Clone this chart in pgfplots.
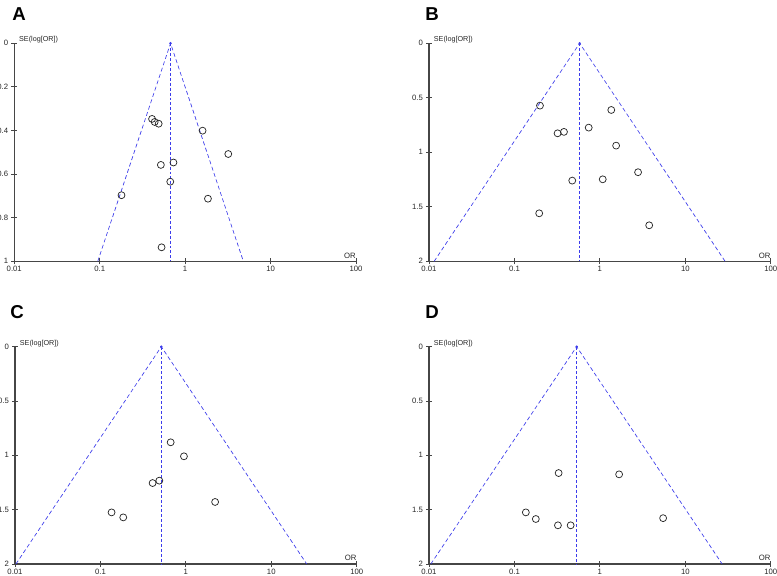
\documentclass[border=0pt]{standalone}
\usepackage{fontspec}
\setmainfont{Liberation Sans}
\usepackage{pgfplots}
\usepackage{pgfplotstable}
\pgfplotsset{compat=1.18}
\definecolor{fblue}{RGB}{60,60,235}
\definecolor{axgray}{RGB}{70,70,70}

\pgfplotstableread{
or se
0.41 0.347
0.44 0.361
0.49 0.369
1.60 0.401
3.20 0.508
0.52 0.558
0.73 0.547
0.67 0.635
0.18 0.697
1.85 0.713
0.53 0.936
}\dataA
\pgfplotstableread{
or se
0.199 0.572
1.36 0.612
0.74 0.774
0.32 0.826
0.38 0.813
1.55 0.939
2.80 1.183
1.08 1.248
0.475 1.260
0.195 1.560
3.78 1.670
}\dataB
\pgfplotstableread{
or se
0.664 0.880
0.95 1.009
0.489 1.233
0.408 1.255
2.20 1.429
0.135 1.525
0.185 1.571
}\dataC
\pgfplotstableread{
or se
0.329 1.163
1.68 1.175
0.136 1.525
0.178 1.586
0.323 1.644
0.455 1.644
5.50 1.578
}\dataD

\pgfplotsset{
  myfunnelaxis/.style={
    scale only axis, width=256.3pt,
    xmin=0.01, xmax=100,
    axis x line*=bottom, axis y line*=left,
    xtick={0.01,0.1,1,10,100}, xticklabels={0.01,0.1,1,10,100},
    xminorticks=false,
    tick align=center, major tick length=4.5pt,
    tick style={axgray, line width=0.6pt},
    axis line style={axgray, line width=0.8pt},
    tick label style={font=\fontsize{5.8}{6.5}\selectfont, text=black!85},
    xticklabel style={yshift=1.8pt},
    yticklabel style={xshift=1.2pt},
    /pgf/number format/assume math mode=true,
    clip=false,
    anchor=south west,
  },
  myyone/.style={ymin=-1, ymax=0, ytick={-1,-0.8,-0.6,-0.4,-0.2,0},
    yticklabels={1,0.8,0.6,0.4,0.2,0}},
  myytwo/.style={ymin=-2, ymax=0, ytick={-2,-1.5,-1,-0.5,0},
    yticklabels={2,1.5,1,0.5,0}},
}
\tikzset{
  mypts/.style={only marks, mark=o, mark size=2.6pt, draw=black!85, line width=0.55pt},
  myfunline/.style={draw=fblue, densely dashed, line width=0.5pt},
  myvert/.style={draw=fblue, dash pattern=on 2.2pt off 1.5pt, line width=0.8pt},
  myapex/.style={only marks, mark=*, mark size=0.7pt, draw=fblue, fill=fblue},
}
\newcommand{\axlabels}{%
  \node[anchor=south west, font=\fontsize{5.4}{6}\selectfont, text=black!85, inner sep=0pt, xshift=3.5pt, yshift=-0.2pt] at (rel axis cs:0,1) {SE(log[OR])};
  \node[anchor=south east, font=\fontsize{5.8}{6.5}\selectfont, text=black!85, inner sep=0pt, yshift=2pt] at (rel axis cs:1,0) {OR};
}

\begin{document}
\begin{tikzpicture}
\path[use as bounding box] (0,0) rectangle (582.75pt,431.25pt);

\node[anchor=base west, font=\fontsize{14}{16}\selectfont\bfseries, inner sep=0pt] at (9pt,415.5pt) {A};
\node[anchor=base west, font=\fontsize{14}{16}\selectfont\bfseries, inner sep=0pt] at (318.75pt,415.5pt) {B};
\node[anchor=base west, font=\fontsize{14}{16}\selectfont\bfseries, inner sep=0pt] at (7.5pt,192.75pt) {C};
\node[anchor=base west, font=\fontsize{14}{16}\selectfont\bfseries, inner sep=0pt] at (318.75pt,192.75pt) {D};

% Panel A
\begin{axis}[xmode=log, myfunnelaxis, myyone, height=163.5pt, at={(10.7pt,235.3pt)}]
\addplot[myfunline] coordinates {(0.095,-1) (0.675,0) (4.80,-1)};
\addplot[myvert] coordinates {(0.675,0) (0.675,-1)};
\addplot[myapex] coordinates {(0.675,0)};
\addplot[mypts] table[x=or, y expr=-\thisrow{se}] {\dataA};
\axlabels
\end{axis}

% Panel B
\begin{axis}[xmode=log, myfunnelaxis, myytwo, height=163.5pt, at={(321.75pt,235.3pt)}]
\addplot[myfunline] coordinates {(0.0115,-2) (0.58,0) (29.2,-2)};
\addplot[myvert] coordinates {(0.58,0) (0.58,-2)};
\addplot[myapex] coordinates {(0.58,0)};
\addplot[mypts] table[x=or, y expr=-\thisrow{se}] {\dataB};
\axlabels
\end{axis}

% Panel C
\begin{axis}[xmode=log, myfunnelaxis, myytwo, height=163pt, at={(11.25pt,8.25pt)}]
\addplot[myfunline] coordinates {(0.01026,-2) (0.516,0) (26.0,-2)};
\addplot[myvert] coordinates {(0.516,0) (0.516,-2)};
\addplot[myapex] coordinates {(0.516,0)};
\addplot[mypts] table[x=or, y expr=-\thisrow{se}] {\dataC};
\axlabels
\end{axis}

% Panel D
\begin{axis}[xmode=log, myfunnelaxis, myytwo, height=163pt, at={(321.75pt,8.25pt)}]
\addplot[myfunline] coordinates {(0.0105,-2) (0.535,0) (27.0,-2)};
\addplot[myvert] coordinates {(0.535,0) (0.535,-2)};
\addplot[myapex] coordinates {(0.535,0)};
\addplot[mypts] table[x=or, y expr=-\thisrow{se}] {\dataD};
\axlabels
\end{axis}
\end{tikzpicture}
\end{document}
